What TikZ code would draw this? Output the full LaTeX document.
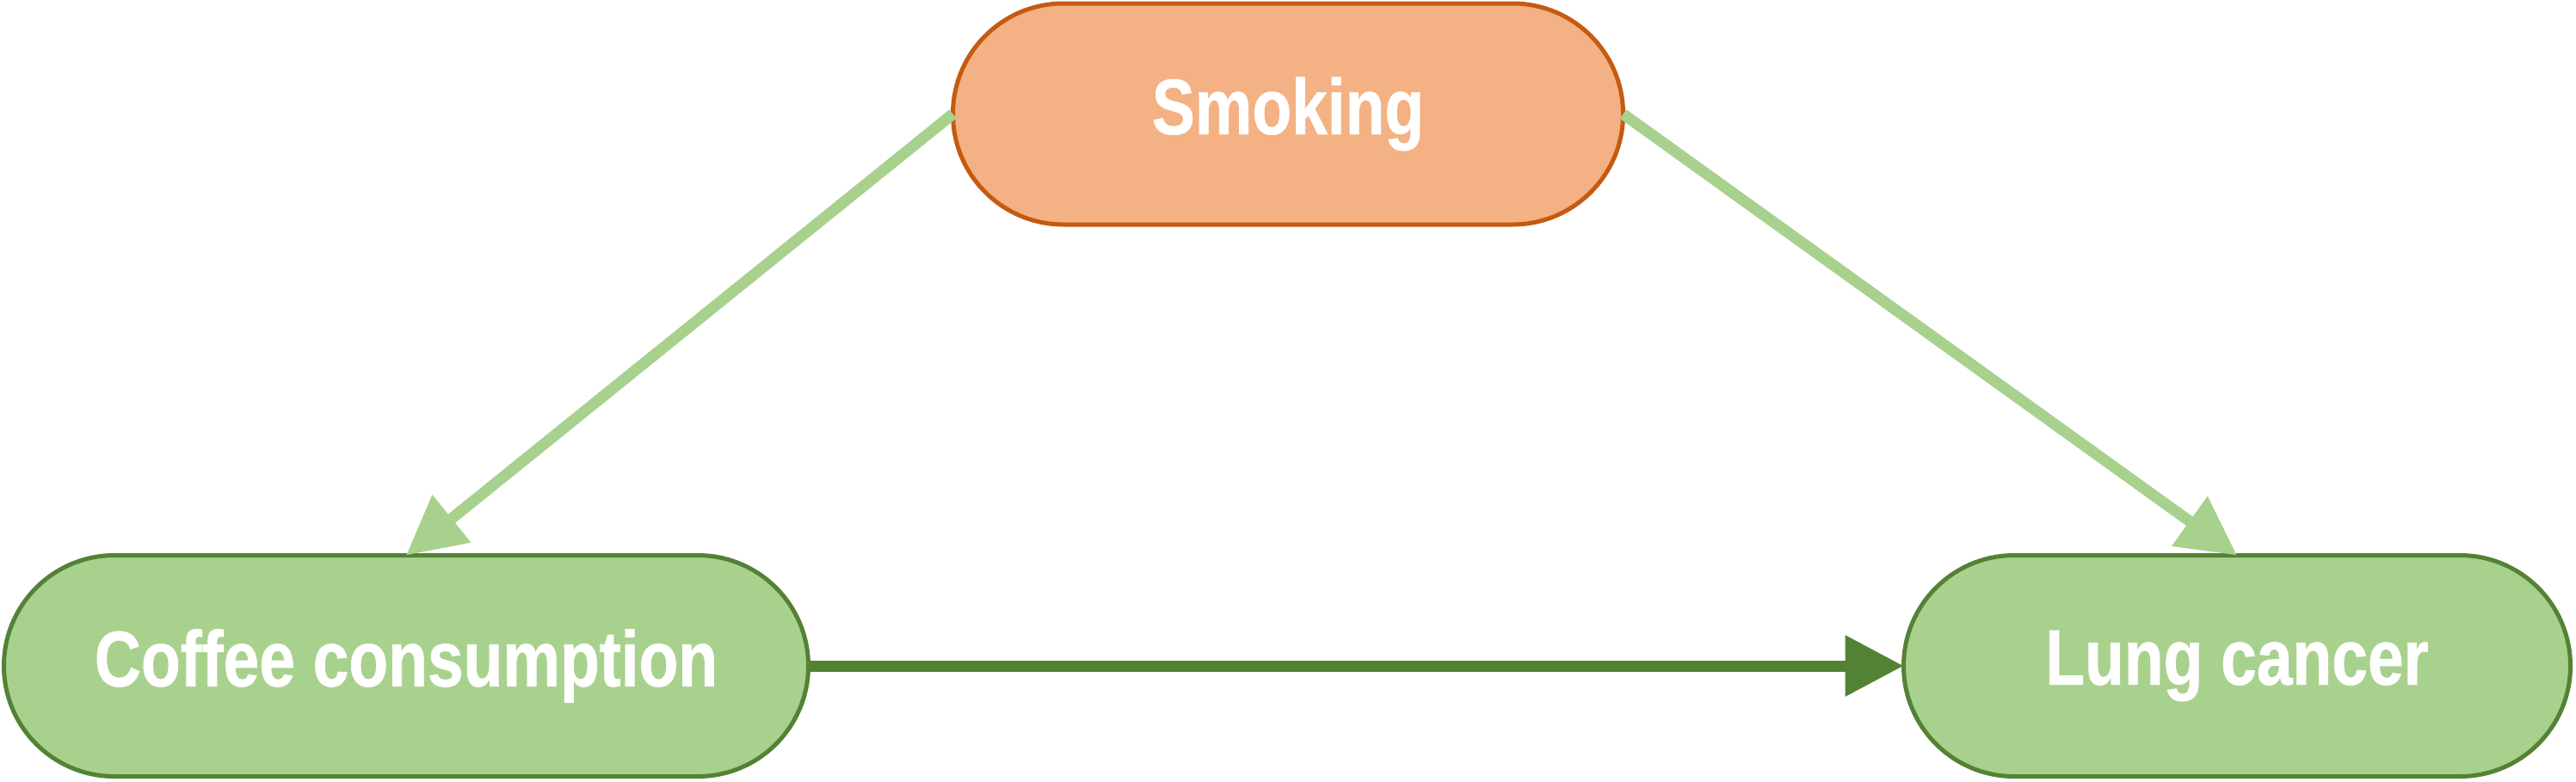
\documentclass[tikz,border=0pt]{standalone}
\usepackage{fontspec}
\setsansfont{Liberation Sans}[FakeStretch=0.82, BoldFeatures={FakeBold=0.8}]
\usepackage{tikz}
\usetikzlibrary{arrows.meta,positioning}

\definecolor{smokefill}{HTML}{F4B183}
\definecolor{smokeline}{HTML}{C55A11}
\definecolor{greenfill}{HTML}{A9D18E}
\definecolor{greenline}{HTML}{548235}

\begin{document}
\begin{tikzpicture}[
    box/.style={draw, line width=0.05cm, rounded corners=1.285cm, minimum height=2.57cm, inner sep=0pt, outer sep=0pt, align=center, text=white, font=\sffamily\bfseries\fontsize{26}{30}\selectfont},
    smokebox/.style={box, fill=smokefill, draw=smokeline},
    greenbox/.style={box, fill=greenfill, draw=greenline},
    arrow/.style={-{Triangle[length=6.8mm, width=6.8mm]}, line width=0.13cm}
]
\useasboundingbox (0,0) rectangle (29.94,9.08);

% Boxes
\node[smokebox, minimum width=7.79cm] (smoke) at (14.97,7.755) {Smoking};
\node[greenbox, minimum width=9.35cm] (coffee) at (4.72,1.34) {Coffee consumption};
\node[greenbox, minimum width=7.75cm] (lung) at (26.00,1.34) {Lung cancer};

% Arrows
\draw[arrow, greenfill] (smoke.west) -- (coffee.north);
\draw[arrow, greenfill] (smoke.east) -- (lung.north);
\draw[arrow, greenline] (coffee.east) -- (lung.west);
\end{tikzpicture}
\end{document}
